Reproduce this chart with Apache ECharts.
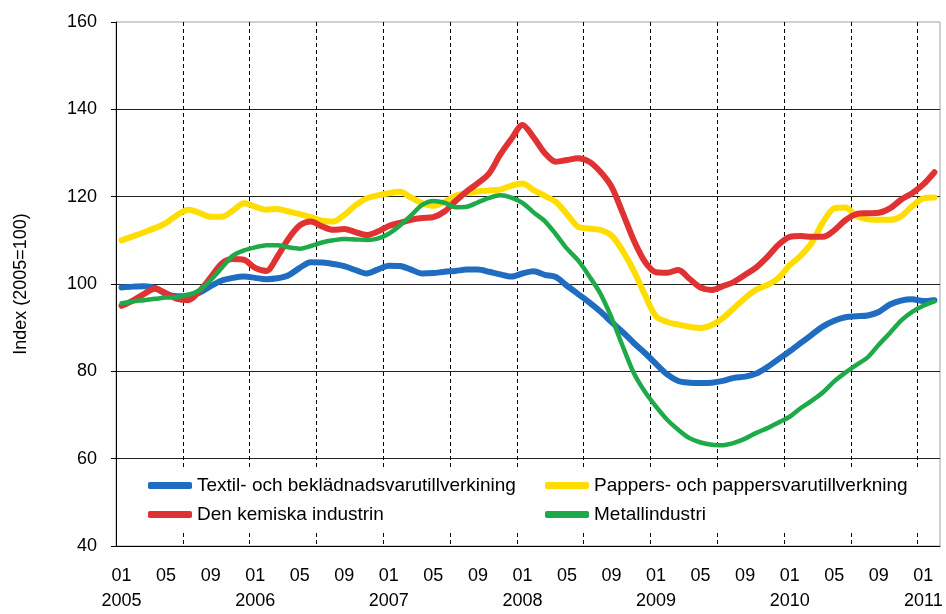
<!DOCTYPE html>
<html>
<head>
<meta charset="utf-8">
<script src="https://cdn.jsdelivr.net/npm/echarts@6/dist/echarts.min.js"></script>
<style>
  html, body { margin: 0; padding: 0; background: #fff; }
  #chart { width: 946px; height: 614px; }
</style>
</head>
<body>
<div id="chart"></div>
<script>
// månader 2005-01 .. 2011-02
var months = [];
for (var y = 2005; y <= 2011; y++) {
  for (var m = 1; m <= 12; m++) {
    if (y === 2011 && m > 2) break;
    months.push(y + '-' + (m < 10 ? '0' + m : '' + m));
  }
}

var seriesNames = [
  'Textil- och beklädnadsvarutillverkining',
  'Pappers- och pappersvarutillverkning',
  'Den kemiska industrin',
  'Metallindustri'
];
var seriesColors = ['#1f6cc0', '#ffdd00', '#e03232', '#1faa4a'];

var textil = [99.2, 99.4, 99.5, 99.1, 97.7, 97.2, 97.4, 98, 99.5, 100.8, 101.4, 101.7, 101.4, 101.1, 101.3, 102, 103.7, 105, 104.9,
  104.6, 104.1, 103.2, 102.4, 103.3, 104.2, 104.1, 103.3, 102.4, 102.5, 102.8, 103, 103.3, 103.3, 102.8, 102.2, 101.7, 102.4, 102.9,
  102.1, 101.6, 99.6, 97.7, 95.8, 93.7, 91.3, 89, 86.5, 84.2, 81.7, 79.3, 77.8, 77.4, 77.3, 77.4, 77.8, 78.5,
  78.8, 79.5, 81, 82.8, 84.6, 86.5, 88.4, 90.3, 91.6, 92.4, 92.6, 92.8, 93.6, 95.3, 96.2, 96.5, 96.1, 96.3];

var pappers = [110, 110.9, 111.8, 112.8, 114, 115.8, 117, 116.3, 115.4, 115.4, 116.8, 118.5, 117.7, 117, 117.2, 116.6, 116, 115.3, 114.5,
  114.3, 115.8, 118, 119.6, 120.3, 120.8, 121.1, 119.8, 118.5, 117.9, 118.8, 120.2, 120.8, 121.2, 121.4, 121.6, 122.5, 123, 121.5,
  120.2, 118.8, 116, 113.1, 112.7, 112.4, 111.1, 107.6, 103, 97.5, 92.6, 91.3, 90.7, 90.2, 89.9, 90.6, 92.2, 94.5,
  96.8, 98.7, 99.8, 101.4, 104.3, 106.5, 109.5, 114.2, 117.3, 117.5, 115.6, 114.8, 114.7, 114.7, 115.5, 117.8, 119.6, 119.8];

var kemiska = [95, 96.2, 97.7, 98.9, 97.9, 96.6, 96.3, 98.4, 101.5, 104.7, 105.7, 105.5, 103.7, 103, 106.3, 110.4, 113.4, 114.3, 113.2,
  112.4, 112.6, 111.9, 111.2, 112, 113.3, 114, 114.7, 115.1, 115.3, 116.6, 119, 121.2, 123.1, 125.3, 129.6, 133.2, 136.4, 133.6,
  130, 128, 128.4, 128.8, 128, 125.7, 122.3, 116.3, 110, 105.1, 102.7, 102.6, 103.2, 101.2, 99.2, 98.6, 99.5, 100.5,
  102.1, 103.8, 106.2, 109, 110.8, 111, 110.8, 110.8, 112.3, 114.6, 116, 116.2, 116.3, 117.3, 119.3, 120.8, 122.8, 125.6];

var metall = [95.6, 96, 96.3, 96.6, 96.9, 97, 97.5, 98.6, 100.9, 103.7, 106.5, 107.7, 108.4, 108.9, 108.9, 108.4, 108.1, 108.7, 109.5,
  110, 110.3, 110.2, 110.1, 110.4, 111.5, 113.4, 115.7, 118.1, 119, 118.6, 117.6, 117.7, 118.7, 119.7, 120.3, 119.8, 118.6, 116.4,
  114.4, 111.4, 108.1, 105.4, 101.8, 97.8, 92.3, 85.8, 79.6, 75.3, 71.9, 68.9, 66.6, 64.7, 63.7, 63.2, 63.1, 63.6,
  64.6, 65.9, 67, 68.3, 69.6, 71.6, 73.3, 75.2, 77.7, 79.7, 81.5, 83.2, 86.1, 88.8, 91.6, 93.6, 95, 96];

var seriesData = [textil, pappers, kemiska, metall];
var lineWidths = [6, 6, 6, 4.5];

var font = "'Liberation Sans', Arial, sans-serif";

// lodräta stödlinjer: halvår, sista (högerkanten) osynlig
var vLineColors = [];
for (var k = 0; k < 13; k++) vLineColors.push('#000');
vLineColors.push('rgba(0,0,0,0)');

var chart = echarts.init(document.getElementById('chart'));

var series = seriesData.map(function (d, i) {
  return {
    name: seriesNames[i],
    type: 'line',
    data: d,
    symbol: 'none',
    smooth: 0.3,
    lineStyle: { width: lineWidths[i], color: seriesColors[i], cap: 'round', join: 'round' },
    itemStyle: { color: seriesColors[i] }
  };
});

var legendBase = {
  orient: 'vertical',
  top: 467,
  icon: 'roundRect',
  itemWidth: 44,
  itemHeight: 7,
  itemGap: 10,
  backgroundColor: '#fff',
  textStyle: { fontSize: 19, color: '#000', fontFamily: font },
  selectedMode: false
};

var option = {
  animation: false,
  textStyle: { fontFamily: font },
  grid: { left: 116, right: 6, top: 22, bottom: 68, show: true, borderColor: '#a0a0a0', borderWidth: 1 },
  legend: [
    Object.assign({}, legendBase, { left: 140, padding: [9, 12, 6, 8], data: [seriesNames[0], seriesNames[2]] }),
    Object.assign({}, legendBase, { left: 537, padding: [9, 18, 6, 8], data: [seriesNames[1], seriesNames[3]] })
  ],
  xAxis: {
    type: 'category',
    data: months,
    boundaryGap: true,
    axisLine: { lineStyle: { color: '#000', width: 1 } },
    axisTick: { show: false },
    axisLabel: {
      interval: 3,
      margin: 18,
      color: '#000',
      fontSize: 18,
      lineHeight: 25,
      formatter: function (v) {
        var p = v.split('-');
        return p[1] === '01' ? p[1] + '\n' + p[0] : p[1];
      }
    },
    splitLine: { show: true, interval: 5, lineStyle: { color: vLineColors, type: [4, 3], width: 1 } }
  },
  yAxis: {
    type: 'value',
    min: 40,
    max: 160,
    interval: 20,
    name: 'Index (2005=100)',
    nameLocation: 'middle',
    nameGap: 86,
    nameTextStyle: { fontSize: 18, color: '#000' },
    axisLine: { show: true, lineStyle: { color: '#000' } },
    axisTick: { show: true, length: 5, lineStyle: { color: '#000' } },
    axisLabel: { margin: 19, color: '#000', fontSize: 18 },
    splitLine: { show: true, showMaxLine: false, lineStyle: { color: '#222', width: 1 } }
  },
  series: series
};

chart.setOption(option);
</script>
</body>
</html>
